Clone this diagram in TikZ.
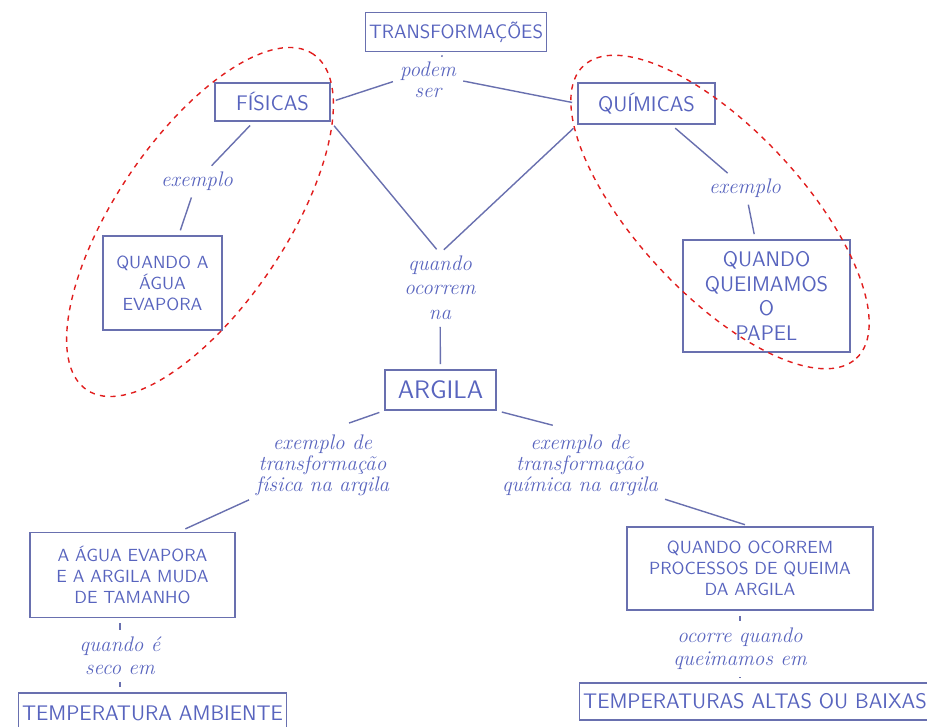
\documentclass[tikz,border=0pt]{standalone}
\usepackage{xcolor}
\usepackage{tikz}
\usepackage{amsmath}
\usetikzlibrary{shapes, arrows, positioning, calc}

\definecolor{ink}{RGB}{88,100,190}
\definecolor{boxline}{RGB}{105,112,175}
\definecolor{loopred}{RGB}{225,30,30}

\begin{document}
\begin{tikzpicture}
        \useasboundingbox (0,0) rectangle (18.54,-14.52);
        % conceitos (caixas)
        \begin{scope}[every node/.style={draw=boxline,thick,rectangle,text=ink,font=\sffamily,align=center,inner sep=2pt}]
          \node[minimum width=3.54cm,minimum height=0.78cm,font=\sffamily\fontsize{11}{13}\selectfont] (trans) at (9.12,-0.64) {TRANSFORMAÇÕES};
          \node[minimum width=2.3cm,minimum height=0.76cm,font=\sffamily\large] (fis) at (5.45,-2.04) {FÍSICAS};
          \node[minimum width=2.74cm,minimum height=0.82cm,font=\sffamily\large] (qui) at (12.93,-2.07) {QUÍMICAS};
          \node[minimum width=2.38cm,minimum height=1.88cm] (agua) at (3.25,-5.66) {QUANDO A\\ÁGUA\\EVAPORA};
          \node[minimum width=3.34cm,minimum height=2.24cm,font=\sffamily\large] (papel) at (15.33,-5.92) {QUANDO\\QUEIMAMOS\\O\\PAPEL};
          \node[minimum width=2.22cm,minimum height=0.8cm,font=\sffamily\Large] (argila) at (8.81,-7.8) {ARGILA};
          \node[minimum width=4.1cm,minimum height=1.7cm] (muda) at (2.65,-11.5) {A ÁGUA EVAPORA\\E A ARGILA MUDA\\DE TAMANHO};
          \node[minimum width=4.92cm,minimum height=1.66cm] (queima) at (15.0,-11.37) {QUANDO OCORREM\\PROCESSOS DE QUEIMA\\DA ARGILA};
          \node[minimum width=5.3cm,minimum height=0.8cm,font=\sffamily\large] (amb) at (3.05,-14.26) {TEMPERATURA AMBIENTE};
          \node[minimum width=6.68cm,minimum height=0.74cm,font=\sffamily\large] (altas) at (15.1,-14.03) {TEMPERATURAS ALTAS OU BAIXAS};
        \end{scope}
        % frases de ligacao
        \begin{scope}[every node/.style={text=ink,font=\itshape\large,align=center,inner sep=1pt}]
          \node (podem) at (8.56,-1.6) {podem\\[-2pt]ser};
          \node (exfis) at (3.94,-3.62) {exemplo};
          \node (exqui) at (14.9,-3.76) {exemplo};
          \node (ocorrem) at (8.8,-5.75) {quando\\ocorrem\\na};
          \node (tfis) at (6.45,-9.3) {exemplo de\\[-2pt]transformação\\[-2pt]física na argila};
          \node (tqui) at (11.6,-9.3) {exemplo de\\[-2pt]transformação\\[-2pt]química na argila};
          \node (seco) at (2.4,-13.12) {quando é\\[-1pt]seco em};
          \node (queimamos) at (14.8,-12.98) {ocorre quando\\[-1pt]queimamos em};
        \end{scope}
        % ligacoes
        \begin{scope}[every edge/.style={draw=boxline,thick,shorten <=3pt,shorten >=3pt}]
          \path (trans) edge (podem);
          \path (podem.west) edge (fis.east);
          \path (podem.east) edge (qui.west);
          \path (fis) edge (exfis);
          \path (exfis) edge (agua);
          \path (qui) edge (exqui);
          \path (exqui) edge (papel);
          \path (fis.south east) edge (ocorrem.north);
          \path (qui.south west) edge (ocorrem.north);
          \path (ocorrem) edge (argila);
          \path (argila.south west) edge[shorten >=16pt] (tfis.north);
          \path (tfis.south west) edge[shorten >=4pt] ($(muda.north)!0.45!(muda.north east)$);
          \path (argila.south east) edge[shorten >=16pt] (tqui.north);
          \path (tqui.south east) edge (queima.north);
          \path (seco.north |- muda.south) edge (seco.north);
          \path (seco.south) edge (seco.south |- amb.north);
          \path (queimamos.north |- queima.south) edge (queimamos.north);
          \path (queimamos.south) edge (queimamos.south |- altas.north);
        \end{scope}
        % agrupamentos
        \draw[loopred,thick,dashed] (4.0,-4.44) ellipse[x radius=4.05cm,y radius=1.7cm,rotate=56];
        \draw[loopred,thick,dashed] (14.4,-4.24) ellipse[x radius=4.0cm,y radius=1.65cm,rotate=-47];
      \end{tikzpicture}
\end{document}
